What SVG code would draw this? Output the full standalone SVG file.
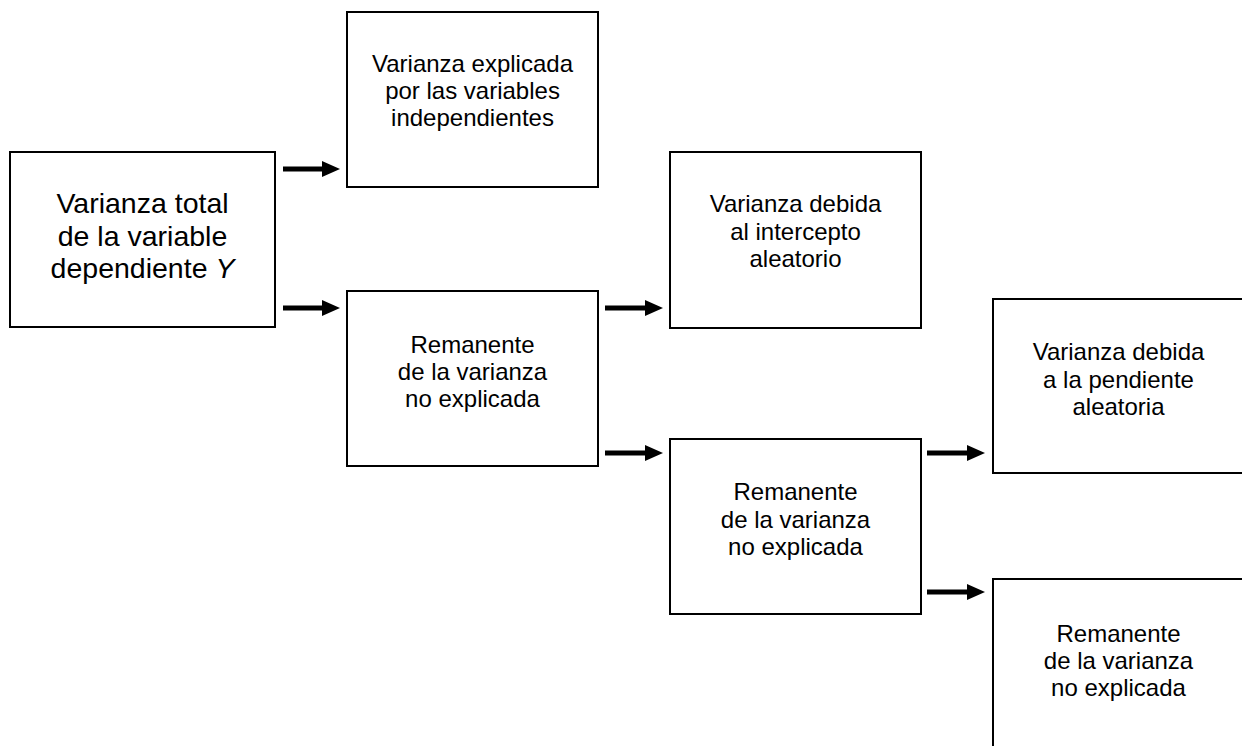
<svg xmlns="http://www.w3.org/2000/svg" width="1242" height="746" viewBox="0 0 1242 746">
<style>
.box{fill:#fff;stroke:#000;stroke-width:2}
.t{font-family:"Liberation Sans",Arial,sans-serif;font-size:24px;fill:#000;text-anchor:middle}
.big{font-size:28.5px}
.arr{fill:#000}
</style>
<rect width="1242" height="746" fill="#fff"/>
<g id="n1"><rect class="box" x="10" y="152" width="265" height="175"/>
<text class="t big" x="142.5"><tspan x="142.5" y="213">Varianza total</tspan><tspan x="142.5" y="246">de la variable</tspan><tspan x="142.5" y="278">dependiente <tspan font-style="italic">Y</tspan></tspan></text></g>
<g id="n2"><rect class="box" x="347" y="12" width="251" height="175"/>
<text class="t"><tspan x="472.5" y="72">Varianza explicada</tspan><tspan x="472.5" y="99">por las variables</tspan><tspan x="472.5" y="126">independientes</tspan></text></g>
<g id="n3"><rect class="box" x="347" y="291" width="251" height="175"/>
<text class="t"><tspan x="472.5" y="353">Remanente</tspan><tspan x="472.5" y="380">de la varianza</tspan><tspan x="472.5" y="407">no explicada</tspan></text></g>
<g id="n4"><rect class="box" x="670" y="152" width="251" height="176"/>
<text class="t"><tspan x="795.5" y="212">Varianza debida</tspan><tspan x="795.5" y="239.5">al intercepto</tspan><tspan x="795.5" y="267">aleatorio</tspan></text></g>
<g id="n5"><rect class="box" x="670" y="439" width="251" height="175"/>
<text class="t"><tspan x="795.5" y="500">Remanente</tspan><tspan x="795.5" y="528">de la varianza</tspan><tspan x="795.5" y="555">no explicada</tspan></text></g>
<g id="n6"><rect class="box" x="993" y="299" width="251" height="174"/>
<text class="t"><tspan x="1118.5" y="360">Varianza debida</tspan><tspan x="1118.5" y="387.5">a la pendiente</tspan><tspan x="1118.5" y="415">aleatoria</tspan></text></g>
<g id="n7"><rect class="box" x="993" y="579" width="251" height="175"/>
<text class="t"><tspan x="1118.5" y="641.5">Remanente</tspan><tspan x="1118.5" y="669">de la varianza</tspan><tspan x="1118.5" y="696">no explicada</tspan></text></g>
<g id="connectors">
<path class="arr" d="M283,166.5H322V161L340,169L322,177V171.5H283Z"/>
<path class="arr" d="M283,305.5H322V300L340,308L322,316V310.5H283Z"/>
<path class="arr" d="M605,305.5H645V300L663,308L645,316V310.5H605Z"/>
<path class="arr" d="M605,450.5H645V445L663,453L645,461V455.5H605Z"/>
<path class="arr" d="M927,450.5H967V445L985,453L967,461V455.5H927Z"/>
<path class="arr" d="M927,589.5H967V584L985,592L967,600V594.5H927Z"/>
</g>
</svg>
